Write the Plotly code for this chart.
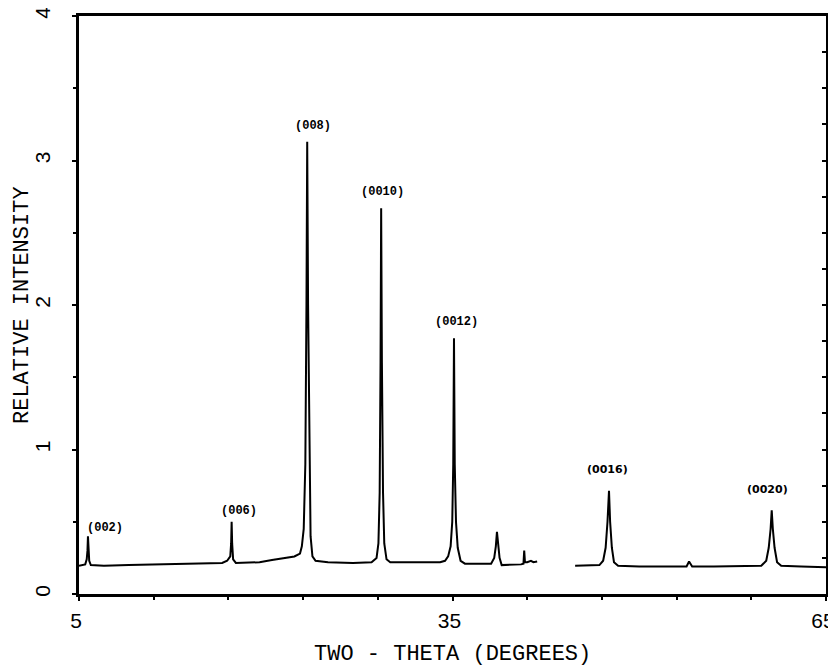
import plotly.graph_objects as go

# Traced diffraction pattern (two-theta in degrees, relative intensity)
two_theta_a = [5.0, 5.5, 5.62, 5.68, 5.72, 5.76, 5.82, 5.95, 7.0, 9.0, 11.0, 13.0, 15.0, 16.5, 16.9,
               17.15, 17.22, 17.26, 17.3, 17.38, 17.6, 18.5, 19.5, 20.5, 21.5, 22.3, 22.75, 22.9,
               23.05, 23.18, 23.27, 23.33, 23.40, 23.50, 23.6, 23.75, 24.0, 25.0, 27.0, 28.5,
               28.9, 29.05, 29.15, 29.22, 29.27, 29.33, 29.42, 29.52, 29.7, 30.0, 32.0, 34.0,
               34.4, 34.65, 34.85, 34.98, 35.06, 35.12, 35.18, 35.28, 35.42, 35.65, 36.0, 37.0,
               38.1, 38.35, 38.48, 38.57, 38.66, 38.78, 38.95, 39.5, 40.5, 40.7, 40.76, 40.82,
               41.0, 41.3, 41.5, 41.8]
intensity_a = [0.195, 0.205, 0.24, 0.30, 0.40, 0.30, 0.23, 0.20, 0.195, 0.20, 0.205, 0.205, 0.21, 0.215, 0.23,
               0.26, 0.35, 0.50, 0.35, 0.24, 0.215, 0.215, 0.22, 0.235, 0.25, 0.26, 0.28, 0.33,
               0.45, 0.9, 2.0, 3.13, 2.0, 0.9, 0.40, 0.26, 0.23, 0.22, 0.215, 0.22,
               0.25, 0.35, 0.7, 1.6, 2.67, 1.6, 0.7, 0.35, 0.24, 0.22, 0.22, 0.22,
               0.23, 0.26, 0.33, 0.5, 0.9, 1.77, 0.9, 0.5, 0.32, 0.23, 0.21, 0.21,
               0.21, 0.25, 0.33, 0.43, 0.33, 0.25, 0.20, 0.20, 0.205, 0.21, 0.30, 0.22,
               0.22, 0.23, 0.22, 0.225]
two_theta_b = [44.85, 46.0, 46.8, 47.1, 47.3, 47.45, 47.57, 47.66, 47.8, 47.97, 48.3, 50.0, 52.0,
               53.8, 54.0, 54.25, 56.0, 58.0, 59.8, 60.2, 60.4, 60.55, 60.64, 60.73, 60.87, 61.07,
               61.4, 63.0, 65.0]
intensity_b = [0.195, 0.195, 0.20, 0.23, 0.32, 0.5, 0.715, 0.5, 0.32, 0.22, 0.195, 0.19, 0.19,
               0.19, 0.225, 0.19, 0.19, 0.19, 0.195, 0.23, 0.32, 0.45, 0.58, 0.45, 0.32, 0.22,
               0.195, 0.19, 0.185]

peak_labels = ["(002)", "(006)", "(008)", "(0010)", "(0012)", "(0016)", "(0020)"]
label_x = [7.1, 17.85, 23.8, 29.4, 35.35, 47.45, 60.3]
label_y = [0.46, 0.575, 3.24, 2.78, 1.88, 0.865, 0.72]

x_ticks = [5, 35, 65]
y_ticks = [0, 1, 2, 3, 4]

x_all = two_theta_a + [None] + two_theta_b
y_all = intensity_a + [None] + intensity_b

fig = go.Figure()
fig.add_trace(go.Scatter(x=x_all, y=y_all, mode="lines", connectgaps=False,
                         line=dict(color="black", width=2), showlegend=False))
fig.add_trace(go.Scatter(x=x_all, y=y_all, mode="lines", yaxis="y2", opacity=0,
                         hoverinfo="skip", showlegend=False))

for i, (t, lx, ly) in enumerate(zip(peak_labels, label_x, label_y)):
    if i < 5:
        fnt = dict(family="Liberation Mono", size=12, color="black", weight="bold")
    else:
        fnt = dict(family="DejaVu Sans", size=11, color="black", weight="bold")
    fig.add_annotation(x=lx, y=ly, text=t, showarrow=False, xref="x", yref="y",
                       xanchor="center", yanchor="middle", font=fnt)

title_font = dict(family="Liberation Mono", size=22, color="black")
fig.add_annotation(x=0.5, y=-0.1055, xref="paper", yref="paper", text="TWO - THETA (DEGREES)",
                   showarrow=False, xanchor="center", yanchor="middle", font=title_font)
fig.add_annotation(x=-0.0763, y=0.5, xref="paper", yref="paper", text="RELATIVE INTENSITY",
                   showarrow=False, xanchor="center", yanchor="middle", textangle=-90, font=title_font)

fig.update_layout(
    width=828, height=664,
    margin=dict(l=71, r=10, t=8, b=78, autoexpand=False),
    plot_bgcolor="white", paper_bgcolor="white",
    xaxis=dict(range=[5, 65], tickvals=x_ticks, ticktext=[str(v) for v in x_ticks],
               ticks="outside", ticklen=4, tickwidth=2, tickcolor="black",
               minor=dict(dtick=6, tick0=5, ticks="outside", ticklen=3, tickwidth=2, tickcolor="black"),
               showline=True, linecolor="black", linewidth=2.5, mirror=True,
               showgrid=False, zeroline=False, ticklabelstandoff=2, ticklabelshift=-3,
               automargin=False, ticklabeloverflow="allow",
               tickfont=dict(family="Liberation Sans", size=21, color="black")),
    yaxis=dict(range=[0, 4], tickvals=y_ticks, ticktext=[str(v) for v in y_ticks],
               ticks="outside", ticklen=4, tickwidth=2, tickcolor="black",
               minor=dict(dtick=0.5, ticks="outside", ticklen=3, tickwidth=2, tickcolor="black"),
               showline=True, linecolor="black", linewidth=2.5, mirror=True,
               showgrid=False, zeroline=False, tickangle=-90, ticklabelstandoff=14,
               automargin=False, ticklabeloverflow="allow",
               tickfont=dict(family="Liberation Sans", size=21, color="black")),
    yaxis2=dict(range=[0, 4], overlaying="y", side="right", dtick=0.25,
                ticks="inside", ticklen=4, tickwidth=2, tickcolor="black", automargin=False,
                showticklabels=False, showgrid=False, zeroline=False, showline=False),
)

fig.write_html("out.html")
